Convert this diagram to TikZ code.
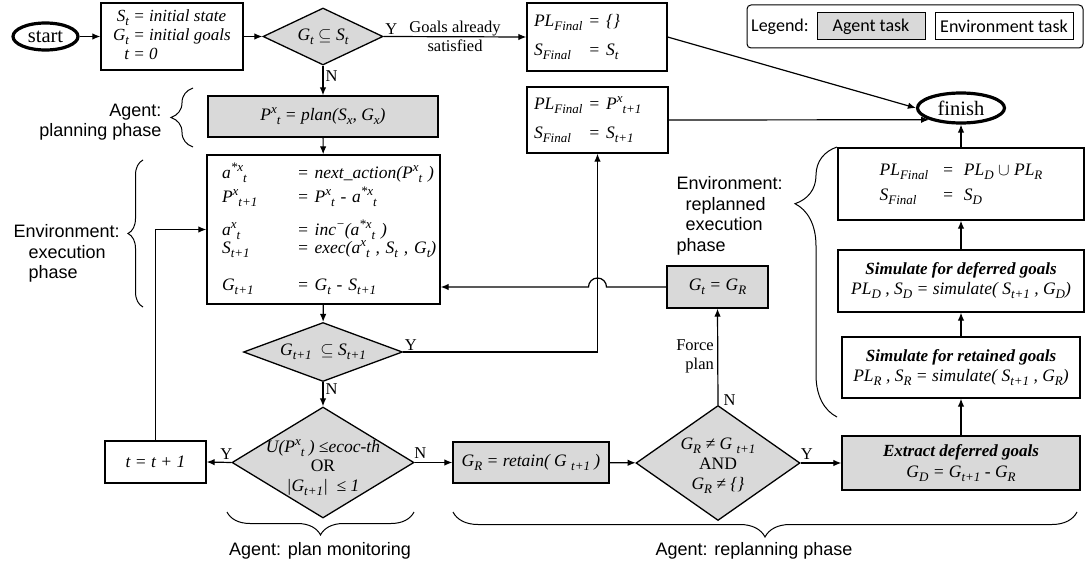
\documentclass[tikz,border=0pt]{standalone}
\usepackage{fontspec}
\setmainfont{Liberation Serif}
\newfontfamily\arialfont{Liberation Sans}
\newfontfamily\calibrifont{Carlito}
\usetikzlibrary{shapes.geometric}
\usetikzlibrary{decorations.pathreplacing}
\usetikzlibrary{arrows.meta}
\definecolor{agentgray}{RGB}{217,217,217}
\newcommand{\Up}[1]{\raisebox{7pt}{\fontsize{13}{13}\selectfont #1}}
\newcommand{\Dn}[1]{\raisebox{-4pt}{\fontsize{13}{13}\selectfont #1}}

\begin{document}
\begin{tikzpicture}[x=1pt,y=1pt,
		txt/.style={font=\fontsize{16.5}{19}\selectfont},
		boxtxt/.style={font=\fontsize{17.5}{20}\selectfont},
		envbox/.style={draw, line width=1.3pt, fill=white, inner sep=0pt, boxtxt},
		agentbox/.style={envbox, fill=agentgray},
		decide/.style={diamond, draw, line width=1.3pt, fill=agentgray, inner sep=0pt},
		termin/.style={ellipse, draw, line width=3.2pt, inner sep=0pt, font=\fontsize{20.5}{24}\selectfont},
		arr/.style={-{Latex[length=8pt,width=6.5pt]}, line width=1.2pt},
		phase/.style={font=\arialfont\fontsize{18}{20.5}\selectfont},
		brc/.style={decorate, decoration={brace, amplitude=#1}, line width=1pt},
		legbox/.style={draw, line width=1pt, minimum height=27, inner sep=0pt, font=\calibrifont\fontsize{18}{21}\selectfont}]
	\useasboundingbox (0,0) rectangle (1085,-567);

	\node[termin, minimum width=65, minimum height=27] (start) at (45.5,-36.5) {start};
	\node[envbox, minimum width=142, minimum height=67] (init) at (172,-36.5) {\itshape\fontsize{17}{19}\selectfont
		\begin{tabular}{@{}r@{ }l@{}}
			S\Dn{t} & = initial state\\
			G\Dn{t} & = initial goals\\
			t & = 0
	\end{tabular}};
	\node[decide, minimum width=120, minimum height=57] (goal) at (323,-36.5) {};
	\node[boxtxt] (goalT) at (goal) {\itshape G\Dn{t} $\subseteq$ S\Dn{t}};
	\node[envbox, align=left, inner xsep=7pt, text width=126pt, minimum height=68] (fin1) at (597,-37) {\itshape
		\begin{tabular}{@{}l@{ }l@{}}
			PL\Dn{Final} & = \{\}\\[9pt]
			S\Dn{Final} & = S\Dn{t}
	\end{tabular}};
	\node[envbox, align=left, inner xsep=7pt, text width=127pt, minimum height=66] (fin2) at (597.5,-120) {\itshape
		\begin{tabular}{@{}l@{ }l@{}}
			PL\Dn{Final} & = P\Up{x}\Dn{t+1}\\[9pt]
			S\Dn{Final} & = S\Dn{t+1}
	\end{tabular}};

	\node[agentbox, minimum width=230, minimum height=41] (plan) at (323,-116.5) {\itshape P\Up{x}\Dn{t} = plan(S\Dn{x}, G\Dn{x})};
	\node[envbox, align=left, inner xsep=15pt, text width=203pt, minimum height=149] (exec) at (323.5,-229.5) {\itshape
		\begin{tabular}{@{}p{75pt}@{}l@{}}
			a\Up{*x}\Dn{t} & = next\_action(P\Up{x}\Dn{t} )\\[3pt]
			P\Up{x}\Dn{t+1} & = P\Up{x}\Dn{t} - a\Up{*x}\Dn{t}\\[11pt]
			a\Up{x}\Dn{t} & = inc\Up{−}(a\Up{*x}\Dn{t} )\\[-2pt]
			S\Dn{t+1} & = exec(a\Up{x}\Dn{t} , S\Dn{t} , G\Dn{t})\\[17pt]
			G\Dn{t+1} & = G\Dn{t} -\ S\Dn{t+1}
	\end{tabular}};
	\node[decide, minimum width=159, minimum height=59] (cont) at (323,-352) {};
	\node[boxtxt] (contT) at (cont) {\itshape G\Dn{t+1} \ $\subseteq$ S\Dn{t+1}};
	\node[decide, minimum width=182, minimum height=111] (mon) at (323,-462.5) {};
	\node[boxtxt, align=center] (monT) at (323,-468) {{\itshape U(P\Up{x}\Dn{t} ) ≤ecoc-th}\\[-1pt]OR\\[0pt]{\itshape |G\Dn{t+1}| \ ≤ 1}};
	\node[envbox, minimum width=101, minimum height=42] (tinc) at (155.5,-462) {\itshape t = t + 1};

	\node[agentbox, minimum width=156, minimum height=41] (ret) at (531,-462.5) {\itshape G\Dn{R} = retain( G \Dn{t+1} )};
	\node[decide, minimum width=164, minimum height=115] (chk) at (718,-463) {};
	\node[boxtxt, align=center] (chkT) at (718,-466) {{\itshape G\Dn{R} ≠ G \Dn{t+1}}\\AND\\{\itshape G\Dn{R} ≠ \{\}}};
	\node[agentbox, minimum width=101, minimum height=42] (gtr) at (717.5,-287) {\itshape G\Dn{t} = G\Dn{R}};
	\node[agentbox, align=center, minimum width=238, minimum height=54] (extr) at (961,-463) {{\fontsize{17}{20}\selectfont\bfseries\itshape Extract deferred goals}\\[1pt]{\itshape G\Dn{D} = G\Dn{t+1} - G\Dn{R}}};
	\node[envbox, align=center, minimum width=238, minimum height=61] (simR) at (961,-367.5) {{\fontsize{17}{20}\selectfont\bfseries\itshape Simulate for retained goals}\\[0pt]{\itshape PL\Dn{R} , S\Dn{R} = simulate( S\Dn{t+1} , G\Dn{R})}};
	\node[envbox, align=center, minimum width=246, minimum height=62] (simD) at (961,-281) {{\fontsize{17}{20}\selectfont\bfseries\itshape Simulate for deferred goals}\\[0pt]{\itshape PL\Dn{D} , S\Dn{D} = simulate( S\Dn{t+1} , G\Dn{D})}};
	\node[envbox, minimum width=246, minimum height=72] (fin3) at (961,-184) {\itshape
		\begin{tabular}{@{}l@{\hspace{14pt}}c@{\hspace{10pt}}l@{}}
			PL\Dn{Final} & = & PL\Dn{D} $\cup$ PL\Dn{R}\\[5pt]
			S\Dn{Final} & = & S\Dn{D}
	\end{tabular}};
	\node[termin, minimum width=87, minimum height=30] (finish) at (961,-108) {finish};

	\node[draw, rounded corners=4pt, line width=1pt, minimum width=336, minimum height=43] (legend) at (915,-26.5) {};
	\node[anchor=west, inner sep=0pt, font=\calibrifont\fontsize{18}{21}\selectfont] (legT) at (751,-26.5) {Legend:};
	\node[legbox, fill=agentgray, minimum width=108] (legA) at (871,-26.5) {Agent task};
	\node[legbox, minimum width=138] (legE) at (1004,-26.5) {Environment task};

	\draw[arr] (start) -- (init);
	\draw[arr] (init) -- (goal);
	\draw[arr] (goal.east) -- node[pos=0, above right, txt, inner sep=1pt] (y1) {Y} node[midway, txt, align=center] (sat) {Goals already\\satisfied} (fin1.west);
	\draw[arr] (goal.south) -- node[pos=0.35, right, txt, inner sep=2pt] (n1) {N} (plan.north);
	\draw[arr] (plan) -- (exec);
	\draw[arr] (exec) -- (cont);
	\draw[arr] (cont.east) -| node[pos=0, above right, txt, inner sep=1pt] (y2) {Y} (fin2.south);
	\draw[arr] (cont.south) -- node[pos=0.3, right, txt, inner sep=2pt] (n2) {N} (mon.north);
	\draw[arr] (mon.west) -- node[pos=0.2, above, txt, inner sep=2pt] (y4) {Y} (tinc.east);
	\draw[arr] (tinc.north) |- (exec.west);
	\draw[arr] (mon.east) -- node[pos=0.15, above, txt, inner sep=3pt] (n4) {N} (ret.west);
	\draw[arr] (ret) -- (chk);
	\draw[arr] (chk.east) -- node[pos=0.15, above, txt, inner sep=3pt] (y3) {Y} (extr.west);
	\draw[arr] (chk.north) -- node[pos=0.05, right, txt, inner sep=5pt] (n3) {N} node[midway, left, txt, align=right] (force) {Force\\plan} (gtr.south);
	\draw[arr] (gtr.west) -- ([xshift=9pt]fin2.south |- gtr.west) arc (0:180:9) -- (exec.east |- gtr.west);
	\draw[arr] (extr) -- (simR);
	\draw[arr] (simR) -- (simD);
	\draw[arr] (simD) -- (fin3);
	\draw[arr] (fin3) -- (finish);
	\draw[arr] (fin1.east) -- (finish.west);
	\draw[arr] (fin2.east) -- (finish.south west);

	\draw[brc=22] (193,-147) -- (193,-88);
	\node[phase, align=right, anchor=east] (agplan) at (165,-122) {Agent:\\planning phase};
	\draw[brc=15] (143,-307) -- (143,-160);
	\node[phase, align=left, anchor=north west] (envexec) at (10,-221) {Environment:\\\hspace*{15pt}execution\\\hspace*{15pt}phase};
	\draw[brc=42, decoration={aspect=0.79}] (837,-417) -- (837,-147);
	\node[phase, align=left, anchor=north west] (envrepl) at (673,-173) {Environment:\\\hspace*{9pt}replanned\\\hspace*{9pt}execution\\phase};
	\draw[brc=23] (414,-512) -- (227,-512);
	\node[phase] (agmon) at (320,-551) {Agent: plan monitoring};
	\draw[brc=25] (1077,-512) -- (453,-512);
	\node[phase] (agrepl) at (754,-551) {Agent: replanning phase};
\end{tikzpicture}
\end{document}
